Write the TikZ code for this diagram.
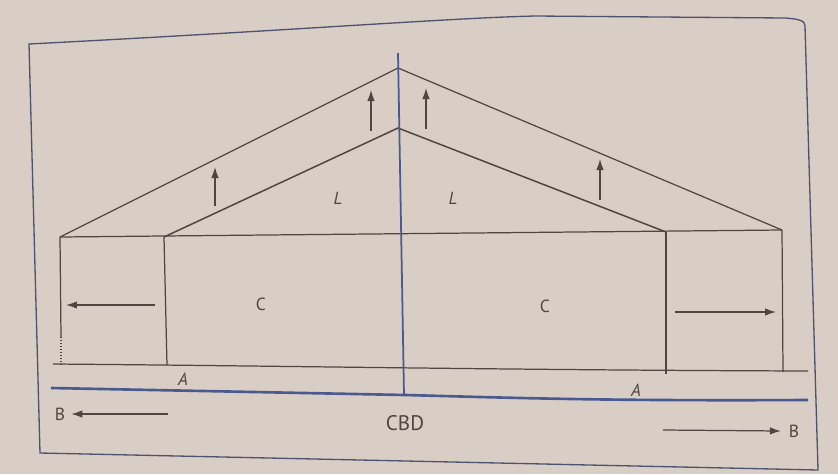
\documentclass[tikz,border=0pt]{standalone}
\usepackage{fontspec}
\setsansfont{PT Sans}
\usetikzlibrary{arrows.meta}
\definecolor{paper}{HTML}{D9CEC5}
\definecolor{ink}{HTML}{4F4541}
\definecolor{roadblue}{HTML}{4A5A8E}

\begin{document}
\begin{tikzpicture}[x=0.02cm, y=-0.02cm,
  edge/.style={draw=ink, line width=0.7pt},
  axis/.style={draw=roadblue, line width=1pt},
  road/.style={draw=roadblue, line width=1.5pt},
  border/.style={draw=roadblue!60!ink, line width=0.75pt},
  move/.style={-{Latex[length=2.2mm,width=1.5mm]}, draw=ink, line width=0.7pt},
  zone/.style={font=\sffamily\itshape, text=ink},
  use/.style={font=\sffamily, text=ink}
]
  \fill[paper] (0,0) rectangle (838,474);
  \useasboundingbox (0,0) rectangle (838,474);

  % page frame of the photographed figure
  \coordinate (pageTL) at (29,44);
  \coordinate (pageTR) at (805,20);
  \coordinate (pageBR) at (818,470);
  \coordinate (pageBL) at (40,453);
  \draw[border] (pageTL) .. controls (300,30) and (450,18) .. (535,16)
    -- (785,18) .. controls (800,19) and (805,21) .. (805,26)
    -- (pageBR) -- (pageBL) -- cycle;

  % rent gradients
  \coordinate (outerPeak) at (398,68);
  \coordinate (innerPeak) at (398,128);
  \coordinate (outerL) at (60,237);
  \coordinate (innerL) at (164,237);
  \coordinate (innerR) at (666,232);
  \coordinate (outerR) at (782,230);
  \coordinate (footOL) at (61,365);
  \coordinate (dotOL) at (61,337);
  \coordinate (footIL) at (167,365);
  \coordinate (footIR) at (666,374);
  \coordinate (footOR) at (783,372);

  \draw[edge] (outerL) -- (outerPeak) -- (outerR);
  \draw[edge, line width=0.85pt] (innerL) -- (innerPeak) -- (innerR);
  \draw[edge] (outerL) -- (outerR);
  \draw[edge] (outerL) -- (dotOL);
  \draw[edge, densely dotted] (dotOL) -- (footOL);
  \draw[edge] (innerL) -- (footIL);
  \draw[edge] (innerR) -- (footIR);
  \draw[edge] (outerR) -- (footOR);

  % ground and road
  \coordinate (groundW) at (53,364);
  \coordinate (groundE) at (808,371);
  \coordinate (roadW) at (51,388);
  \coordinate (roadE) at (808,400);
  \draw[edge] (groundW) .. controls (300,366) and (500,370) .. (groundE);
  \draw[road] (roadW) -- (405,395) .. controls (520,398) and (600,401) .. (roadE);

  % centre line
  \coordinate (axisTop) at (398,53);
  \coordinate (axisFoot) at (404,395);
  \draw[axis] (axisTop) -- (axisFoot);

  % movements
  \coordinate (upA) at (215,206);
  \coordinate (upB) at (371,131);
  \coordinate (upC) at (426,129);
  \coordinate (upD) at (600,200);
  \draw[move] (upA) -- ++(0,-39);
  \draw[move] (upB) -- ++(0,-41);
  \draw[move] (upC) -- ++(0,-41);
  \draw[move] (upD) -- ++(0,-41);
  \coordinate (outW) at (155,305);
  \coordinate (outE) at (675,312);
  \draw[move] (outW) -- ++(-89,0);
  \draw[move] (outE) -- ++(101,0);

  \node[zone] (landL) at (338,198) {L};
  \node[zone] (landR) at (453,198) {L};
  \node[use] (commL) at (261,304) {C};
  \node[use] (commR) at (545,306) {C};
  \node[zone] (agriL) at (183,379) {A};
  \node[zone] (agriR) at (636,390) {A};
  \node[use, font=\sffamily\large] (cbd) at (405,423) {CBD};
  \node[use] (bW) at (60,414) {B};
  \node[use] (bE) at (794,431) {B};
  \coordinate (bWtail) at (168,414);
  \coordinate (bEtail) at (663,430);
  \draw[move] (bWtail) -- (bW.east);
  \draw[move] (bEtail) -- ([xshift=-1pt]bE.west);
\end{tikzpicture}
\end{document}
